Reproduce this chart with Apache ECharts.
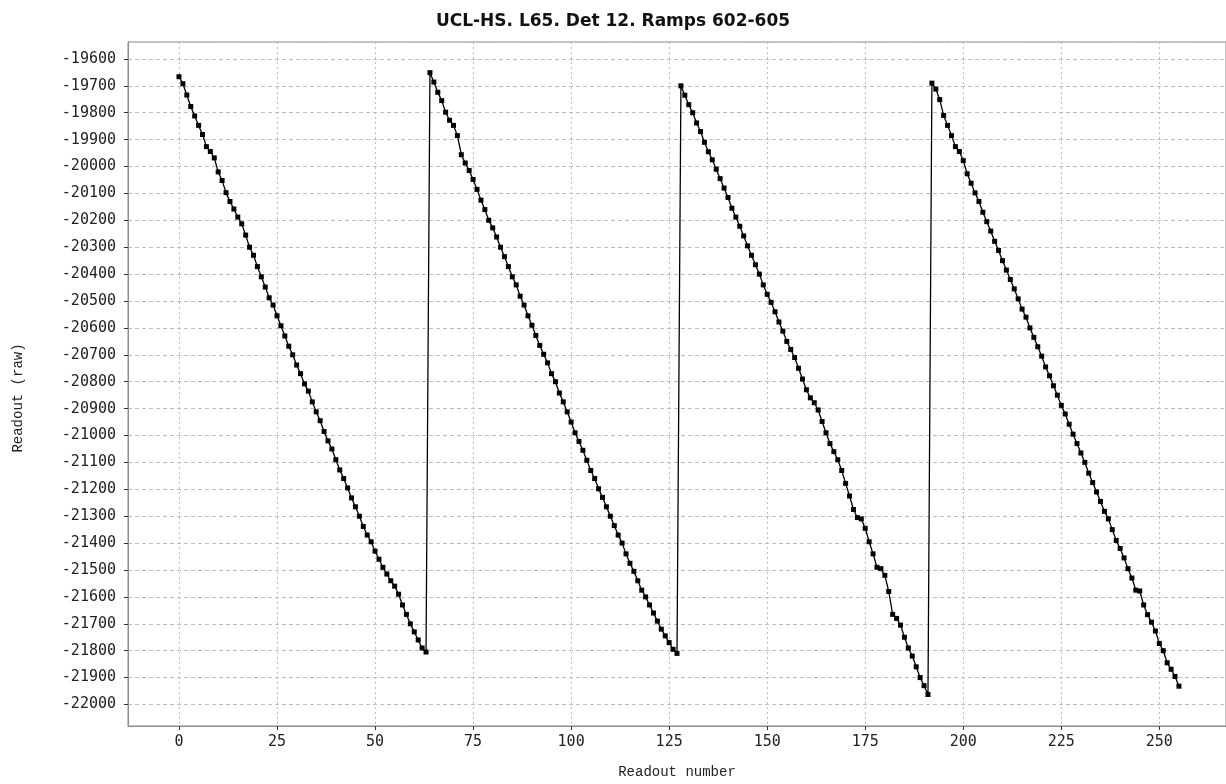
<!DOCTYPE html>
<html>
<head>
<meta charset="utf-8">
<title>UCL-HS. L65. Det 12. Ramps 602-605</title>
<script src="https://cdn.jsdelivr.net/npm/echarts@6/dist/echarts.min.js"></script>
<style>
  html, body { margin: 0; padding: 0; background: #ffffff; overflow: hidden; }
  #chart { width: 1226px; height: 784px; }
</style>
</head>
<body>
<div id="chart"></div>
<script>
// Raw readouts of detector 12, four consecutive ramps of 64 readouts each
const ramp602 = [
  -19666, -19692, -19734, -19777, -19812, -19847, -19881, -19926,
  -19944, -19968, -20020, -20052, -20097, -20130, -20158, -20188,
  -20213, -20255, -20300, -20330, -20372, -20410, -20448, -20488,
  -20515, -20555, -20592, -20630, -20668, -20700, -20738, -20770,
  -20808, -20835, -20875, -20912, -20945, -20985, -21020, -21050,
  -21090, -21128, -21160, -21195, -21232, -21265, -21300, -21338,
  -21370, -21395, -21430, -21460, -21490, -21515, -21540, -21560,
  -21590, -21630, -21665, -21700, -21730, -21760, -21790, -21805
];
const ramp603 = [
  -19651, -19686, -19724, -19755, -19798, -19828, -19847, -19885,
  -19956, -19987, -20015, -20048, -20085, -20125, -20160, -20200,
  -20228, -20262, -20300, -20335, -20372, -20410, -20440, -20482,
  -20515, -20555, -20590, -20628, -20665, -20698, -20730, -20770,
  -20800, -20842, -20875, -20912, -20950, -20990, -21022, -21055,
  -21092, -21130, -21160, -21198, -21230, -21265, -21300, -21335,
  -21370, -21400, -21440, -21475, -21505, -21540, -21575, -21600,
  -21630, -21660, -21690, -21720, -21745, -21770, -21795, -21810
];
const ramp604 = [
  -19700, -19735, -19770, -19800, -19838, -19870, -19910, -19945,
  -19975, -20010, -20045, -20080, -20115, -20155, -20188, -20222,
  -20258, -20295, -20330, -20365, -20400, -20440, -20475, -20505,
  -20540, -20578, -20612, -20650, -20680, -20710, -20750, -20790,
  -20830, -20860, -20878, -20905, -20948, -20990, -21030, -21060,
  -21090, -21130, -21178, -21225, -21275, -21305, -21310, -21345,
  -21395, -21440, -21490, -21495, -21520, -21580, -21665, -21680,
  -21705, -21750, -21790, -21820, -21860, -21900, -21930, -21963
];
const ramp605 = [
  -19690, -19712, -19751, -19810, -19847, -19885, -19926, -19944,
  -19978, -20027, -20062, -20098, -20130, -20170, -20205, -20240,
  -20278, -20312, -20350, -20385, -20420, -20455, -20492, -20530,
  -20560, -20600, -20635, -20670, -20705, -20745, -20778, -20815,
  -20850, -20888, -20920, -20958, -20995, -21030, -21065, -21100,
  -21140, -21175, -21210, -21245, -21282, -21310, -21350, -21390,
  -21420, -21455, -21495, -21530, -21575, -21578, -21630, -21666,
  -21694, -21727, -21773, -21800, -21845, -21869, -21896, -21932
];

// Axis ranges and tick spacing
const xRange = [-13, 267];
const xStep = 25;
const yRange = [-22080, -19537];
const yStep = 100;

const titleText = 'UCL-HS. L65. Det 12. Ramps 602-605';
const xName = 'Readout number';
const yName = 'Readout (raw)';

// Readout number runs continuously across the four ramps
const readouts = [].concat(ramp602, ramp603, ramp604, ramp605);
const points = readouts.map((v, i) => [i, v]);

const chart = echarts.init(document.getElementById('chart'), null, { renderer: 'canvas' });

const labelFont = {
  fontFamily: 'DejaVu Sans Mono',
  fontSize: 15,
  color: '#222',
  formatter: (v) => String(v)
};
const nameFont = { fontFamily: 'Liberation Mono', fontSize: 14, color: '#222' };
const gridLine = (dash) => ({
  show: true,
  lineStyle: { color: '#bdbdbd', width: 1, type: dash }
});

chart.setOption({
  animation: false,
  backgroundColor: '#ffffff',
  title: {
    text: titleText,
    left: 'center',
    top: 8,
    textStyle: {
      fontFamily: 'DejaVu Sans',
      fontWeight: 'bold',
      fontSize: 17,
      color: '#111'
    }
  },
  grid: {
    left: 128,
    right: -2,
    top: 42,
    bottom: 47,
    show: true,
    borderColor: '#8c8c8c',
    borderWidth: 1,
    containLabel: false
  },
  xAxis: {
    type: 'value',
    min: xRange[0],
    max: xRange[1],
    minInterval: xStep,
    maxInterval: xStep,
    splitNumber: 11,
    name: xName,
    nameLocation: 'middle',
    nameGap: 39,
    nameTextStyle: nameFont,
    axisLine: { show: true, onZero: false, lineStyle: { color: '#8c8c8c', width: 1 } },
    axisTick: { show: true, inside: false, length: 4, lineStyle: { color: '#333' } },
    axisLabel: Object.assign({ margin: 9, showMinLabel: false, showMaxLabel: false }, labelFont),
    splitLine: gridLine([2, 3])
  },
  yAxis: {
    type: 'value',
    min: yRange[0],
    max: yRange[1],
    minInterval: yStep,
    maxInterval: yStep,
    splitNumber: 25,
    name: yName,
    nameLocation: 'middle',
    nameGap: 103,
    nameRotate: 90,
    nameTextStyle: Object.assign({ padding: [0, 28, 0, 0] }, nameFont),
    axisLine: { show: true, onZero: false, lineStyle: { color: '#8c8c8c', width: 1 } },
    axisTick: { show: true, inside: false, length: 4, lineStyle: { color: '#333' } },
    axisLabel: Object.assign({ margin: 12, showMinLabel: false, showMaxLabel: false }, labelFont),
    splitLine: gridLine([4, 3])
  },
  series: [{
    type: 'line',
    data: points,
    symbol: 'rect',
    symbolSize: 5,
    showAllSymbol: true,
    itemStyle: { color: '#000' },
    lineStyle: { color: '#000', width: 1.3 },
    emphasis: { disabled: true }
  }]
});
</script>
</body>
</html>
